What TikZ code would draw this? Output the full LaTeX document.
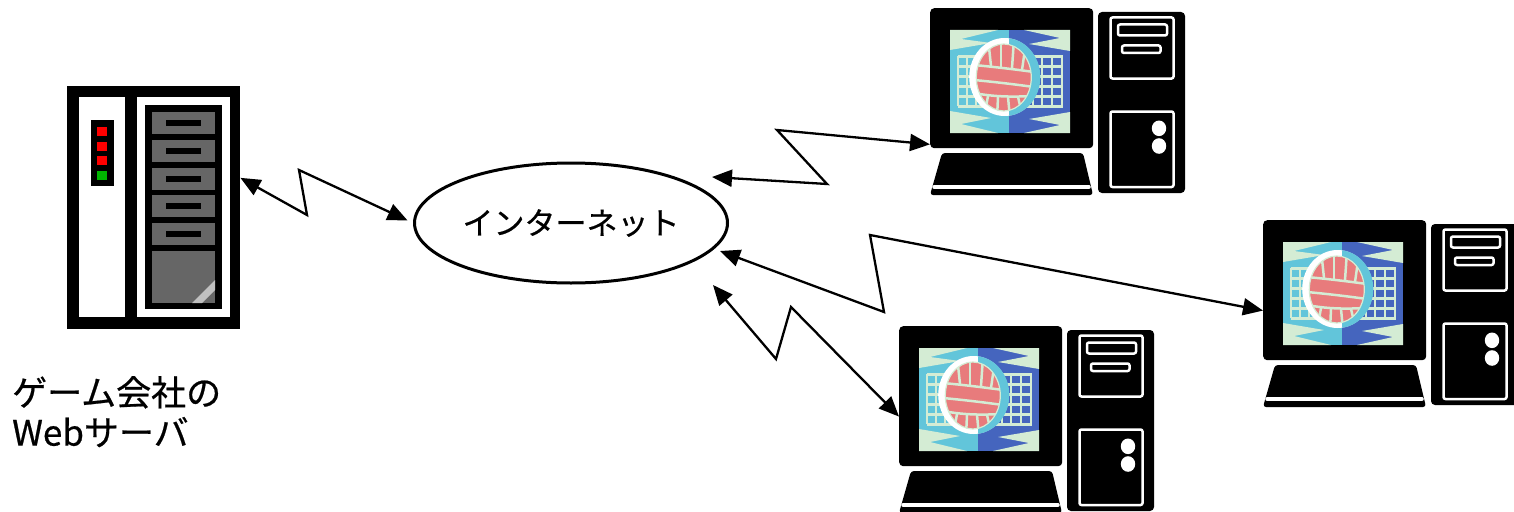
\documentclass[tikz,border=0pt]{standalone}
\usepackage{fontspec}
\setmainfont{Noto Sans CJK JP}[FakeBold=0.6]
\usetikzlibrary{arrows.meta,shapes.geometric}

\definecolor{scrcyan}{HTML}{62C5DA}
\definecolor{scrblue}{HTML}{4565BE}
\definecolor{netgreen}{HTML}{D4ECD4}
\definecolor{ballpink}{HTML}{E87B7C}
\definecolor{bayslot}{HTML}{666666}
\definecolor{bayglare}{HTML}{C0C0C0}
\definecolor{ledgreen}{HTML}{00B400}

\tikzset{
  link/.style={line width=2.3pt, {Triangle[length=20pt,width=17pt]}-{Triangle[length=20pt,width=17pt]}},
  cloud/.style={ellipse, draw, line width=3pt, minimum width=313pt, minimum height=120pt, inner sep=0pt, font=\fontsize{31}{36}\selectfont},
  monitor/.style={fill=black, rounded corners=4pt, minimum width=163pt, minimum height=140pt, inner sep=0pt, anchor=north west},
  panel/.style={draw=white, line width=2.5pt, rounded corners=2pt},
  netline/.style={netgreen, line width=2.5pt},
  computer/.pic={
    % pics are not flipped like the picture, so flip y here
    \begin{scope}[yscale=-1]
    %Shape: Monitor
    \node[monitor] (-mon) at (0,0) {};
    %Shape: Screen
    \fill[scrcyan] (20,22) rectangle (79,125);
    \fill[scrblue] (79,22) rectangle (140,125);
    \begin{scope}[shift={(20,22)}]
      % saw teeth in the corners
      \fill[netgreen] (0,0) -- (48,0) -- (11,9) -- (41,13) -- (0,20) -- cycle;
      \fill[netgreen] (120,0) -- (74,0) -- (110,8) -- (79,14) -- (120,21) -- cycle;
      \fill[netgreen] (0,103) -- (48,103) -- (11,94) -- (41,88) -- (0,81) -- cycle;
      \fill[netgreen] (120,103) -- (74,103) -- (110,95) -- (79,89) -- (120,82) -- cycle;
      % net
      \foreach \y in {26.3,36.3,46.3,56.3,66.3,76.3} \draw[netline] (8,\y) -- (113,\y);
      \foreach \x in {8,17,26,35,83,92,102,112} \draw[netline] (\x,26.3) -- (\x,76.3);
      % ball
      \fill[white] (54.5,47) ellipse [x radius=35.3, y radius=39];
      \begin{scope}
        \clip (59,0) rectangle (120,103);
        \fill[scrcyan] (55,47) ellipse [x radius=35.3, y radius=39];
      \end{scope}
      \fill[ballpink, draw=netgreen, line width=1.2pt] (53.8,47.5) ellipse [x radius=27.5, y radius=33.5];
      \begin{scope}
        \clip (53.8,47.5) ellipse [x radius=27.5, y radius=33.5];
        \draw[netline] (24,35) .. controls (45,37) and (62,39) .. (84,42);
        \draw[netline] (24,50) .. controls (45,52) and (62,54) .. (84,57);
        \draw[netline] (24,63) .. controls (45,67) and (62,67) .. (84,66);
        \draw[netline] (38,8) -- (41,36);
        \draw[netline] (51,8) -- (51,37);
        \draw[netline] (64,9) -- (62,38);
        \draw[netline] (76,12) -- (72,40);
        \draw[netline] (38,66) -- (34,88);
        \draw[netline] (48,67) -- (47,88);
        \draw[netline] (58,67) -- (60,88);
        \draw[netline] (68,67) -- (73,88);
      \end{scope}
    \end{scope}
    %Shape: Keyboard
    \fill[rounded corners=3pt] (12,145) -- (153,145) -- (163,187) -- (0,187) -- cycle;
    \draw[white, line width=3.5pt, line cap=round] (4,179) -- (159,179);
    %Shape: Tower
    \fill[rounded corners=4pt] (168,4) rectangle (255,185);
    \draw[panel] (180.5,9.5) rectangle (243.5,70.5);
    \draw[panel] (188,16.5) rectangle (237,27.5);
    \draw[panel] (192,37.5) rectangle (230.5,45);
    \draw[panel] (180.5,103.5) rectangle (243.5,179);
    \fill[white] (229,120.3) ellipse [x radius=7.2, y radius=7.8];
    \fill[white] (229,138) ellipse [x radius=7.2, y radius=7.8];
    \end{scope}
  }
}

\begin{document}
\begin{tikzpicture}[x=1pt,y=1pt,yscale=-1,xscale=1]
\useasboundingbox (0,0) rectangle (1514,511);

%Shape: Server cabinet
\node[fill=black, minimum width=173pt, minimum height=243pt, inner sep=0pt, anchor=north west] (srv) at (67,86) {};
\fill[white] (79,97) rectangle (125,317);
\fill[white] (137,97) rectangle (230,317);
% status lamps
\fill (91,120) rectangle (114,186);
\fill[red] (97,127) rectangle (107,136);
\fill[red] (97,142) rectangle (107,151);
\fill[red] (97,156) rectangle (107,165);
\fill[ledgreen] (97,171) rectangle (107,180);
% drive bays
\fill (145,105) rectangle (222,309);
\fill[bayslot] (152,112) rectangle (215,133.5);
\fill[bayslot] (152,140) rectangle (215,161.5);
\fill[bayslot] (152,168) rectangle (215,189.5);
\fill[bayslot] (152,195) rectangle (215,216.5);
\fill[bayslot] (152,223) rectangle (215,244.5);
\fill (166,119.8) rectangle (201,125.8);
\fill (166,147.8) rectangle (201,153.8);
\fill (166,175.8) rectangle (201,181.8);
\fill (166,202.8) rectangle (201,208.8);
\fill (166,230.8) rectangle (201,236.8);
\fill[bayslot] (152,251) rectangle (215,303);
\fill[bayglare] (192,303) -- (215,280) -- (215,290) -- (202,303) -- cycle;

% Text Node
\node[anchor=north west, inner sep=0pt, align=left, font=\fontsize{35}{40}\selectfont] (srvlabel) at (12,376) {ゲーム会社の\\Webサーバ};

%Shape: Ellipse
\node[cloud] (net) at (571,223) {インターネット};

%Clients
\pic (pc1) at (930,8) {computer};
\pic (pc2) at (1263,220) {computer};
\pic (pc3) at (899,326) {computer};

% free ends next to the ellipse
\coordinate (up) at (712,177);
\coordinate (mid) at (720,251);
\coordinate (low) at (713,285);

%Zigzag Lines
\draw[link, shorten >=6pt] (srv.19) -- (307,215) -- (299,170) -- (net.west);
\draw[link] (up) -- (827,184) -- (777,130) -- (pc1-mon.219);
\draw[link] (mid) -- (884,312) -- (870,235) -- (pc2-mon.194);
\draw[link] (low) -- (776,359) -- (791,307) -- (pc3-mon.194);

\end{tikzpicture}
\end{document}
